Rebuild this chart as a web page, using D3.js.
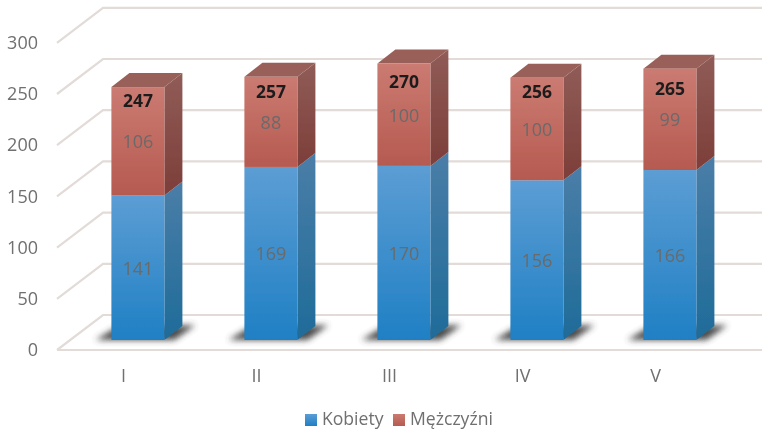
<!DOCTYPE html>
<html><head><meta charset="utf-8">
<script src="https://cdnjs.cloudflare.com/ajax/libs/d3/7.8.5/d3.min.js"></script>
<style>html,body{margin:0;padding:0;background:#fff}svg{display:block}text{font-family:"Open Sans",sans-serif}</style>
</head><body><svg id="c" width="762" height="430"></svg>
<script>
const categories = ["I","II","III","IV","V"];
const kobiety = [141,169,170,156,166];
const mezczyzni = [106,88,100,100,99];
const totals = [247,257,270,256,265];
const yTicks = [0,50,100,150,200,250,300];
const seriesNames = ["Kobiety","Mężczyźni"];
const totalLabelDy = [13,14,17,13,19];

const svg = d3.select("#c");
const defs = svg.append("defs");
function grad(id,a,b){
  const g=defs.append("linearGradient").attr("id",id).attr("x1",0).attr("y1",0).attr("x2",0).attr("y2",1);
  g.append("stop").attr("offset","0%").attr("stop-color",a);
  g.append("stop").attr("offset","100%").attr("stop-color",b);
}
grad("bf","#5c9dd4","#1f80c4");
grad("bs","#4a7ea8","#1f6b99");
grad("rf","#cb7b72","#b65a50");
grad("rs","#905c57","#7d3e39");
defs.append("filter").attr("id","sh").attr("x","-30%").attr("y","-80%").attr("width","160%").attr("height","260%")
  .append("feGaussianBlur").attr("stdDeviation",3);
defs.append("filter").attr("id","soft").append("feGaussianBlur").attr("stdDeviation",0.4);

const depth = {wx:46, wy:35, bx:18, by:14};
const y0Front = 350, y0Bar = 340;
const y = d3.scaleLinear().domain([0,300]).range([y0Bar,y0Bar-307.2]);
const yFront = d3.scaleLinear().domain([0,300]).range([y0Front,y0Front-307.2]);
const x = d3.scaleBand().domain(categories).range([71.5,736.5]).paddingInner(0.6).paddingOuter(0.3);
const bw = 53;

const root = svg.append("g").attr("filter","url(#soft)");

// walls and grid
const grid = root.append("g").attr("fill","none").attr("stroke","#e2dbd8").attr("stroke-width",2.2);
grid.selectAll("path").data(yTicks).join("path")
  .attr("d",d=>{const f=yFront(d);return `M57,${f}L${57+depth.wx},${f-depth.wy}L762,${f-depth.wy}`;});
grid.append("path").attr("d",`M57,${y0Front}L762,${y0Front}`);

const line = p=>"M"+p.map(q=>q.join(",")).join("L")+"Z";

// shadows
root.append("g").selectAll("path").data(categories).join("path")
  .attr("d",c=>{const a=x(c),b=a+bw;return line([[a-16,y0Bar],[a+4,y0Bar-12],[b+31,y0Bar-15],[b+10,y0Bar]]);})
  .attr("fill","#3a3a3a").attr("opacity",0.92).attr("filter","url(#sh)");

// bars
const bars = root.append("g").selectAll("g").data(categories).join("g");
bars.each(function(c,i){
  const g=d3.select(this), a=x(c), b=a+bw;
  const k=kobiety[i], t=k+mezczyzni[i];
  const {bx,by}=depth;
  g.append("path").attr("d",line([[b,y(0)],[b+bx,y(0)-by],[b+bx,y(k)-by],[b,y(k)]])).attr("fill","url(#bs)");
  g.append("path").attr("d",line([[b,y(k)],[b+bx,y(k)-by],[b+bx,y(t)-by],[b,y(t)]])).attr("fill","url(#rs)");
  g.append("path").attr("d",line([[a,y(t)],[a+bx,y(t)-by],[b+bx,y(t)-by],[b,y(t)]])).attr("fill","#99605a");
  g.append("rect").attr("x",a).attr("width",bw).attr("y",y(k)).attr("height",y(0)-y(k)).attr("fill","url(#bf)");
  g.append("rect").attr("x",a).attr("width",bw).attr("y",y(t)).attr("height",y(k)-y(t)).attr("fill","url(#rf)");
  const cx=a+bw/2;
  g.append("text").attr("x",cx).attr("y",(y(0)+y(k))/2).text(k).attr("class","v");
  g.append("text").attr("x",cx).attr("y",(y(k)+y(t))/2).text(mezczyzni[i]).attr("class","v");
  g.append("text").attr("x",cx).attr("y",y(t)+totalLabelDy[i]).text(totals[i])
    .attr("font-weight",700).attr("fill","#1c1c1c").attr("font-size",17.5).attr("text-anchor","middle").attr("dominant-baseline","central");
});
root.selectAll("text.v").attr("font-size",18).attr("fill","#6a6a6a").attr("text-anchor","middle").attr("dominant-baseline","central");

// axes
const yAxis = root.append("g").attr("transform","translate(38,0)")
  .call(d3.axisLeft(yFront).tickValues(yTicks).tickSize(0).tickPadding(0));
yAxis.select(".domain").remove();
yAxis.selectAll("text").attr("font-size",18).attr("fill","#6f6f6f");
const xAxis = root.append("g").attr("transform","translate(-14.5,368)")
  .call(d3.axisBottom(x).tickSize(0).tickPadding(0));
xAxis.select(".domain").remove();
xAxis.selectAll("text").attr("font-size",18).attr("fill","#6f6f6f").attr("dy","0.75em");

// legend
const leg = root.append("g");
const legX = [305,393];
const swatch = ["url(#bf)","url(#rf)"];
seriesNames.forEach((s,i)=>{
  leg.append("rect").attr("x",legX[i]).attr("y",414).attr("width",12).attr("height",12).attr("fill",swatch[i]);
  leg.append("text").attr("x",legX[i]+17).attr("y",417.5).text(s).attr("font-size",17.6).attr("fill","#6f6f6f").attr("dominant-baseline","central");
});
</script></body></html>
